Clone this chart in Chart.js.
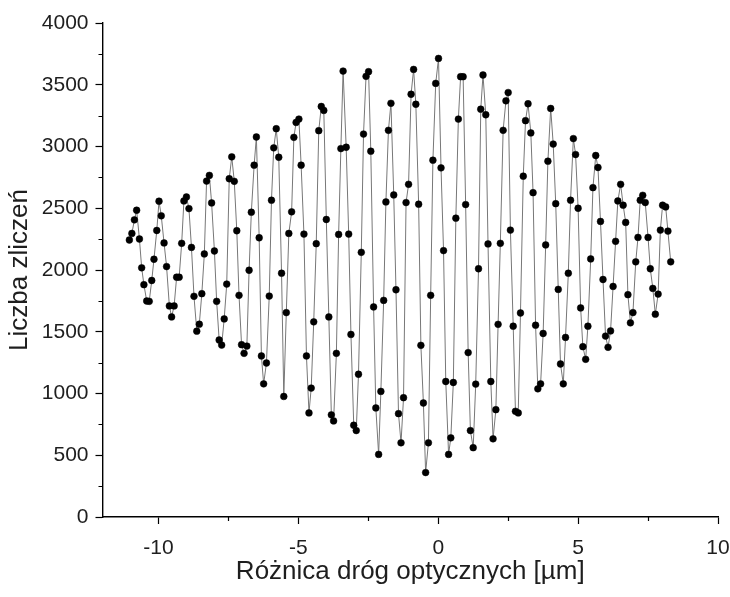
<!DOCTYPE html>
<html>
<head>
<meta charset="utf-8">
<script src="https://cdn.jsdelivr.net/npm/chart.js@4/dist/chart.umd.min.js"></script>
<style>
  html, body { margin: 0; padding: 0; background: #fff; }
  #wrap { width: 730px; height: 597px; }
</style>
</head>
<body>
<div id="wrap"><canvas id="chart" width="730" height="597"></canvas></div>
<script>
// optical path difference [um]
const pathDiff = [
  -11.04, -10.95, -10.86, -10.78, -10.68, -10.60, -10.52, -10.42, -10.33, -10.24,
  -10.16, -10.06, -9.98, -9.90, -9.80, -9.71, -9.61, -9.53, -9.44, -9.35,
  -9.26, -9.17, -9.09, -9.00, -8.91, -8.82, -8.73, -8.63, -8.54, -8.45,
  -8.36, -8.28, -8.18, -8.10, -8.00, -7.92, -7.83, -7.74, -7.65, -7.56,
  -7.47, -7.38, -7.29, -7.20, -7.12, -7.03, -6.94, -6.84, -6.76, -6.68,
  -6.58, -6.50, -6.40, -6.32, -6.24, -6.14, -6.04, -5.96, -5.88, -5.79,
  -5.70, -5.60, -5.52, -5.43, -5.34, -5.24, -5.16, -5.08, -4.98, -4.90,
  -4.80, -4.71, -4.62, -4.54, -4.45, -4.36, -4.27, -4.18, -4.09, -4.00,
  -3.91, -3.82, -3.74, -3.64, -3.56, -3.48, -3.40, -3.29, -3.20, -3.12,
  -3.02, -2.93, -2.85, -2.75, -2.67, -2.58, -2.49, -2.41, -2.31, -2.23,
  -2.13, -2.05, -1.95, -1.87, -1.78, -1.69, -1.59, -1.51, -1.42, -1.33,
  -1.24, -1.15, -1.06, -0.97, -0.88, -0.80, -0.70, -0.62, -0.53, -0.45,
  -0.35, -0.27, -0.19, -0.09, 0.01, 0.10, 0.19, 0.27, 0.37, 0.45,
  0.54, 0.63, 0.72, 0.80, 0.89, 0.98, 1.07, 1.15, 1.25, 1.34,
  1.44, 1.52, 1.60, 1.70, 1.78, 1.88, 1.96, 2.06, 2.14, 2.22,
  2.32, 2.42, 2.50, 2.58, 2.68, 2.76, 2.86, 2.94, 3.04, 3.12,
  3.21, 3.31, 3.39, 3.48, 3.56, 3.66, 3.75, 3.84, 3.92, 4.02,
  4.11, 4.20, 4.29, 4.37, 4.47, 4.55, 4.65, 4.73, 4.83, 4.91,
  5.00, 5.09, 5.17, 5.27, 5.35, 5.45, 5.53, 5.63, 5.71, 5.80,
  5.89, 5.98, 6.07, 6.16, 6.25, 6.34, 6.42, 6.52, 6.61, 6.70,
  6.78, 6.87, 6.96, 7.06, 7.14, 7.22, 7.31, 7.40, 7.50, 7.58,
  7.67, 7.76, 7.86, 7.94, 8.02, 8.13, 8.21, 8.31
];

// counts
const counts = [
  2243, 2296, 2406, 2484, 2251, 2018, 1881, 1749, 1746, 1915,
  2087, 2320, 2557, 2439, 2219, 2028, 1709, 1620, 1709, 1942,
  1942, 2216, 2559, 2591, 2497, 2183, 1787, 1505, 1561, 1808,
  2130, 2720, 2766, 2543, 2154, 1746, 1433, 1392, 1604, 1886,
  2739, 2916, 2718, 2318, 1795, 1395, 1325, 1384, 1998, 2468,
  2849, 3077, 2261, 1304, 1078, 1247, 1789, 2565, 2989, 3144,
  2913, 1974, 976, 1655, 2296, 2471, 3074, 3195, 3222, 2849,
  2291, 1304, 843, 1044, 1580, 2213, 3128, 3324, 3292, 2409,
  1620, 827, 778, 1325, 2288, 2983, 3611, 2994, 2291, 1478,
  743, 700, 1156, 2143, 3101, 3568, 3606, 2962, 1701, 883,
  507, 1017, 1754, 2551, 3131, 3350, 2608, 1840, 837, 601,
  966, 2546, 2694, 3423, 3624, 3342, 2533, 1390, 923, 360,
  601, 1795, 2889, 3511, 3713, 2827, 2157, 1097, 507, 641,
  1089, 2420, 3222, 3565, 3565, 2530, 1331, 700, 561, 1076,
  2010, 3302, 3579, 3257, 2211, 1097, 633, 869, 1560, 2216,
  3131, 3370, 3437, 2323, 1545, 856, 843, 1652, 2760, 3209,
  3346, 3110, 2626, 1553, 1038, 1078, 1486, 2203, 2881, 3308,
  3020, 2537, 1843, 1239, 1078, 1454, 1974, 2565, 3064, 2935,
  2500, 1693, 1379, 1277, 1545, 2090, 2667, 2927, 2830, 2393,
  1923, 1465, 1374, 1507, 1867, 2232, 2559, 2694, 2525, 2385,
  1800, 1572, 1655, 2066, 2264, 2565, 2605, 2546, 2264, 2010,
  1851, 1642, 1805, 2323, 2525, 2511, 2315, 2066
];

const xMajor = [-10, -5, 0, 5, 10];
const xMinor = [-7.5, -2.5, 2.5, 7.5];
const yMajor = [0, 500, 1000, 1500, 2000, 2500, 3000, 3500, 4000];
const yMinor = [250, 750, 1250, 1750, 2250, 2750, 3250, 3750];

const FONT = "'Liberation Sans', Arial, sans-serif";
const TEXT = '#1e1e1e';

// short outward minor ticks, Origin style
const minorTicks = {
    id: 'minorTicks',
    afterDraw(chart) {
        const { ctx } = chart;
        const x = chart.scales.x, y = chart.scales.y;
        ctx.save();
        ctx.strokeStyle = '#000';
        ctx.lineWidth = 1.2;
        ctx.beginPath();
        xMinor.forEach(v => {
            const px = Math.round(x.getPixelForValue(v)) + 0.5;
            ctx.moveTo(px, x.top);
            ctx.lineTo(px, x.top + 4);
        });
        yMinor.forEach(v => {
            const py = Math.round(y.getPixelForValue(v)) + 0.5;
            ctx.moveTo(y.right, py);
            ctx.lineTo(y.right - 4, py);
        });
        ctx.stroke();
        ctx.restore();
    }
};

const points = pathDiff.map((v, i) => ({ x: v, y: counts[i] }));

new Chart(document.getElementById('chart'), {
    type: 'scatter',
    data: {
        datasets: [{
            data: points,
            showLine: true,
            borderColor: '#777',
            borderWidth: 1,
            pointRadius: 3.4,
            pointHoverRadius: 3.4,
            pointBackgroundColor: '#000',
            pointBorderColor: '#000',
            pointBorderWidth: 0.5
        }]
    },
    options: {
        responsive: false,
        animation: false,
        devicePixelRatio: 1,
        layout: { padding: { left: 0, top: 23, right: 12, bottom: 0 } },
        plugins: {
            legend: { display: false },
            tooltip: { enabled: false }
        },
        scales: {
            x: {
                type: 'linear',
                min: -12,
                max: 10,
                afterBuildTicks: s => { s.ticks = xMajor.map(v => ({ value: v })); },
                afterFit: s => { s.height = 80; s.paddingLeft = 0; s.paddingRight = 0; },
                grid: { display: true, drawOnChartArea: false, drawTicks: true, tickLength: 7, tickColor: '#000', tickWidth: 1.2 },
                border: { display: true, color: '#000', width: 1.4 },
                ticks: { font: { family: FONT, size: 21 }, color: TEXT, padding: 12, maxRotation: 0, callback: v => String(v) },
                title: {
                    display: true,
                    text: 'Różnica dróg optycznych [µm]',
                    font: { family: FONT, size: 26 },
                    color: TEXT,
                    padding: { top: 0, bottom: 10 }
                }
            },
            y: {
                type: 'linear',
                min: 0,
                max: 4000,
                afterBuildTicks: s => { s.ticks = yMajor.map(v => ({ value: v })); },
                afterFit: s => { s.width = 102.5; s.paddingTop = 0; s.paddingBottom = 0; },
                grid: { display: true, drawOnChartArea: false, drawTicks: true, tickLength: 7, tickColor: '#000', tickWidth: 1.2 },
                border: { display: true, color: '#000', width: 1.4 },
                ticks: { font: { family: FONT, size: 21 }, color: TEXT, padding: 7, callback: v => String(v) },
                title: {
                    display: true,
                    text: 'Liczba zliczeń',
                    font: { family: FONT, size: 26 },
                    color: TEXT,
                    padding: { top: 4, bottom: 0 }
                }
            }
        }
    },
    plugins: [minorTicks]
});
</script>
</body>
</html>
